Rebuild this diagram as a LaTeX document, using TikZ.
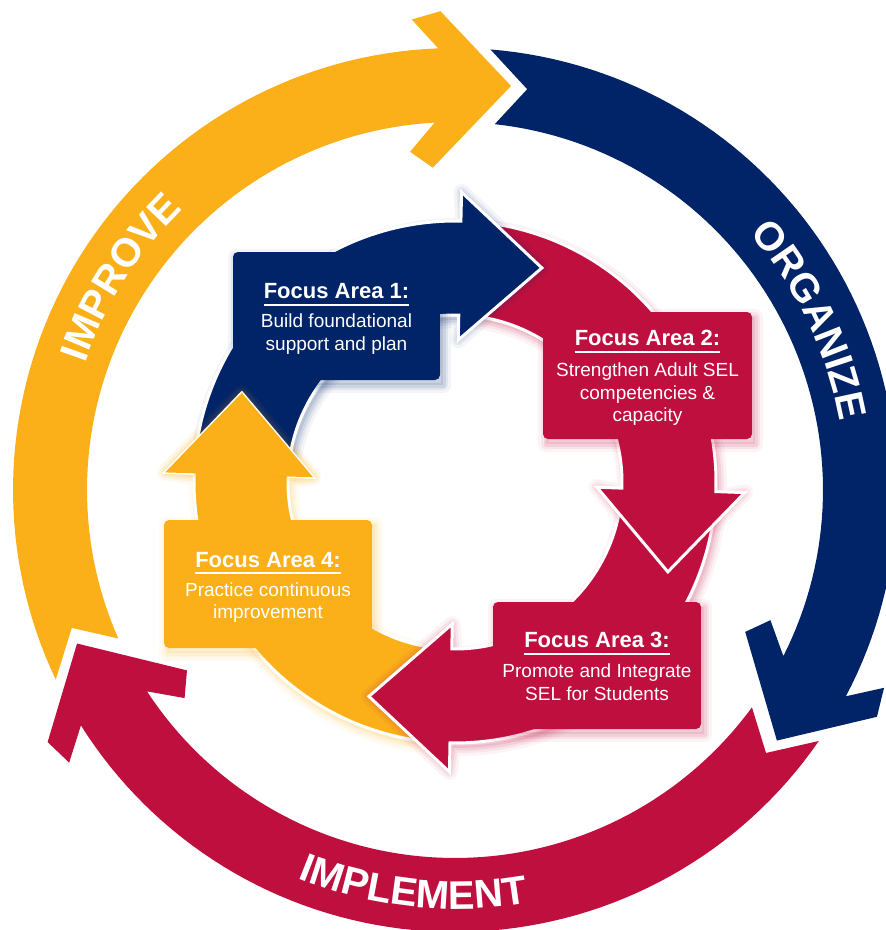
\documentclass[tikz,border=0pt]{standalone}
\usepackage{fontspec}
\setmainfont{Liberation Sans}
\usetikzlibrary{calc,decorations.text}
\definecolor{cyel}{RGB}{251,176,26}
\definecolor{cnavy}{RGB}{1,35,103}
\definecolor{cred}{RGB}{191,15,62}
\newcommand\outerfont{\fontsize{40}{40}\selectfont\bfseries}
\newcommand\softshadow[2]{%
  \foreach \ww/\oo in {16/0.05,10/0.07,5/0.09}{%
    \draw[#1, line width=\ww pt, opacity=\oo, line join=round, shift={(3,5)}] #2;}%
  \fill[#1, opacity=0.1, shift={(3,5)}] #2;}
\begin{document}
\begin{tikzpicture}[x=1pt,y=-1pt,
  arrowbody/.style={draw=white, line width=3pt, fill=#1},
  boxfill/.style={fill=#1, rounded corners=5pt},
  fatitle/.style={text=white, font=\fontsize{22}{22}\selectfont\bfseries, inner sep=0pt, anchor=base},
  bodytext/.style={text=white, font=\fontsize{19}{19}\selectfont, inner sep=0pt, anchor=base},
  uline/.style={draw=white, line width=2pt},
  outerlabel/.style={decorate, decoration={text along path, text align=center, text color=white, text={|\outerfont|#1}}},
]
\useasboundingbox (0,0) rectangle (886,930);
\clip (0,0) rectangle (886,930);
\coordinate (Co) at (455,490);
\coordinate (Ci) at (455,482);

% ---------- outer ring head points ----------
\foreach \nm/\b in {Y/267.3, N/387.3, R/507.3}{
  \coordinate (\nm-G)   at ($(Co)+({\b}:397)+({\b+90}:91)$);
  \coordinate (\nm-ob)  at ($(Co)+({\b}:472)+({\b+90}:-21)$);
  \coordinate (\nm-obb) at ($(Co)+({\b}:479)+({\b+90}:8)$);
  \coordinate (\nm-tip) at ($(Co)+({\b}:401)+({\b+90}:75)$);
  \coordinate (\nm-ibb) at ($(Co)+({\b}:323)+({\b+90}:-7)$);
  \coordinate (\nm-ib)  at ($(Co)+({\b}:340)+({\b+90}:-29)$);
}

% IMPROVE (yellow)
\fill[cyel] (R-G) -- plot[domain=154.6:267.82,samples=70,variable=\t] ({455+442*cos(\t)},{490+442*sin(\t)})
  -- (Y-ob) -- (Y-obb) -- (Y-tip) -- (Y-ibb) -- (Y-ib)
  -- plot[domain=266.83:156.2,samples=70,variable=\t] ({455+368*cos(\t)},{490+368*sin(\t)}) -- cycle;
% ORGANIZE (navy)
\fill[cnavy] (Y-G) -- plot[domain=274.6:387.82,samples=70,variable=\t] ({455+442*cos(\t)},{490+442*sin(\t)})
  -- (N-ob) -- (N-obb) -- (N-tip) -- (N-ibb) -- (N-ib)
  -- plot[domain=386.83:276.2,samples=70,variable=\t] ({455+368*cos(\t)},{490+368*sin(\t)}) -- cycle;
% IMPLEMENT (red)
\fill[cred] (N-G) -- plot[domain=394.6:507.82,samples=70,variable=\t] ({455+442*cos(\t)},{490+442*sin(\t)})
  -- (R-ob) -- (R-obb) -- (R-tip) -- (R-ibb) -- (R-ib)
  -- plot[domain=506.83:396.2,samples=70,variable=\t] ({455+368*cos(\t)},{490+368*sin(\t)}) -- cycle;

% outer labels
\path[outerlabel=IMPROVE] plot[domain=182.4:242.4,samples=90,variable=\t] ({455+391*cos(\t)},{490+391*sin(\t)});
\path[outerlabel=ORGANIZE] plot[domain=304.4:364.4,samples=90,variable=\t] ({455+391*cos(\t)},{490+391*sin(\t)});
\path[outerlabel=IMPLEMENT] plot[domain=126:66,samples=90,variable=\t] ({455+419*cos(\t)},{490+419*sin(\t)});

% ---------- inner ring ----------
\foreach \nm/\b in {A/271.3, B/362.1, C/91.1, D/181.9}{
  \coordinate (\nm-ob)  at ($(Ci)+({\b}:290)$);
  \coordinate (\nm-ib)  at ($(Ci)+({\b}:142)$);
  \coordinate (\nm-tip) at ($(Ci)+({\b}:216)+({\b+90}:82)$);
}
\def\pA{plot[domain=185.9:271.3,samples=60,variable=\t] ({455+261*cos(\t)},{482+261*sin(\t)}) -- (A-ob) -- (A-tip) -- (A-ib) -- plot[domain=271.3:185.9,samples=60,variable=\t] ({455+167*cos(\t)},{482+167*sin(\t)}) -- cycle}
\def\pB{plot[domain=275.3:362.1,samples=60,variable=\t] ({455+261*cos(\t)},{482+261*sin(\t)}) -- (B-ob) -- (B-tip) -- (B-ib) -- plot[domain=362.1:275.3,samples=60,variable=\t] ({455+167*cos(\t)},{482+167*sin(\t)}) -- cycle}
\def\pC{plot[domain=6.1:91.1,samples=60,variable=\t] ({455+261*cos(\t)},{482+261*sin(\t)}) -- (C-ob) -- (C-tip) -- (C-ib) -- plot[domain=91.1:6.1,samples=60,variable=\t] ({455+167*cos(\t)},{482+167*sin(\t)}) -- cycle}
\def\pD{plot[domain=95.1:181.9,samples=60,variable=\t] ({455+261*cos(\t)},{482+261*sin(\t)}) -- (D-ob) -- (D-tip) -- (D-ib) -- plot[domain=181.9:95.1,samples=60,variable=\t] ({455+167*cos(\t)},{482+167*sin(\t)}) -- cycle}

\softshadow{cyel}{\pD}
\path[arrowbody=cyel] \pD;
\softshadow{cred}{\pC}
\path[arrowbody=cred] \pC;
\softshadow{cred}{\pB}
\path[arrowbody=cred] \pB;
\softshadow{cnavy}{\pA}
\path[arrowbody=cnavy] \pA;
% yellow head again on top of the navy tail
\coordinate (D-jo) at ($(Ci)+(181.9:261)$);
\coordinate (D-ji) at ($(Ci)+(181.9:167)$);
\softshadow{cyel}{(D-ob) -- (D-tip) -- (D-ib) -- cycle}
\draw[white, line width=3pt] (D-jo) -- (D-ob) -- (D-tip) -- (D-ib) -- (D-ji);
\fill[cyel] (D-ob) -- (D-tip) -- (D-ib) -- cycle;

% ---------- boxes ----------
\softshadow{cnavy}{(233,252) rectangle (440,380)}
\fill[boxfill=cnavy] (233,252) rectangle (440,380);
\softshadow{cred}{(543,312) rectangle (752,439)}
\fill[boxfill=cred] (543,312) rectangle (752,439);
\softshadow{cred}{(493,602) rectangle (701,729)}
\fill[boxfill=cred] (493,602) rectangle (701,729);
\softshadow{cyel}{(164,520) rectangle (372,648)}
\fill[boxfill=cyel] (164,520) rectangle (372,648);

% ---------- texts ----------
\node[fatitle] (t1) at (336.5,298) {Focus Area 1:};
\draw[uline] ($(t1.base west)+(0,7)$) -- ($(t1.base east)+(0,7)$);
\node[bodytext] (b1a) at (336.5,327) {Build foundational};
\node[bodytext] (b1b) at (336.5,350) {support and plan};

\node[fatitle] (t2) at (647.5,345) {Focus Area 2:};
\draw[uline] ($(t2.base west)+(0,7)$) -- ($(t2.base east)+(0,7)$);
\node[bodytext] (b2a) at (647.5,376) {Strengthen Adult SEL};
\node[bodytext] (b2b) at (647.5,399) {competencies \&};
\node[bodytext] (b2c) at (647.5,421) {capacity};

\node[fatitle] (t3) at (597,647) {Focus Area 3:};
\draw[uline] ($(t3.base west)+(0,7)$) -- ($(t3.base east)+(0,7)$);
\node[bodytext] (b3a) at (597,677) {Promote and Integrate};
\node[bodytext] (b3b) at (597,700) {SEL for Students};

\node[fatitle] (t4) at (268,567) {Focus Area 4:};
\draw[uline] ($(t4.base west)+(0,6)$) -- ($(t4.base east)+(0,6)$);
\node[bodytext] (b4a) at (268,596) {Practice continuous};
\node[bodytext] (b4b) at (268,618) {improvement};
\end{tikzpicture}
\end{document}
